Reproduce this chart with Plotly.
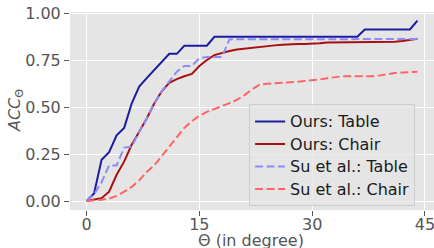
import plotly.graph_objects as go

theta = list(range(45))

ours_table = [0.0, 0.04, 0.22, 0.26, 0.35, 0.39, 0.52, 0.61, 0.655, 0.70,
              0.745, 0.785, 0.785, 0.828, 0.828, 0.828, 0.828, 0.876, 0.876, 0.876,
              0.876, 0.876, 0.876, 0.876, 0.876, 0.876, 0.876, 0.876, 0.876, 0.876,
              0.876, 0.876, 0.876, 0.876, 0.876, 0.876, 0.876, 0.915, 0.915, 0.915,
              0.915, 0.915, 0.915, 0.915, 0.962]

ours_chair = [0.0, 0.008, 0.015, 0.05, 0.14, 0.21, 0.30, 0.37, 0.44, 0.52,
              0.585, 0.63, 0.65, 0.665, 0.678, 0.72, 0.752, 0.778, 0.79, 0.80,
              0.808, 0.813, 0.816, 0.82, 0.826, 0.83, 0.834, 0.838, 0.838, 0.838,
              0.838, 0.842, 0.846, 0.846, 0.846, 0.846, 0.846, 0.848, 0.85, 0.85,
              0.85, 0.85, 0.853, 0.857, 0.865]

su_table = [0.0, 0.035, 0.10, 0.19, 0.19, 0.285, 0.29, 0.37, 0.44, 0.52,
            0.585, 0.64, 0.69, 0.72, 0.72, 0.762, 0.768, 0.768, 0.768, 0.862,
            0.862, 0.862, 0.862, 0.862, 0.862, 0.862, 0.862, 0.862, 0.862, 0.862,
            0.862, 0.862, 0.862, 0.862, 0.862, 0.862, 0.862, 0.862, 0.862, 0.862,
            0.862, 0.862, 0.862, 0.862, 0.864]

su_chair = [0.0, 0.003, 0.007, 0.013, 0.027, 0.05, 0.075, 0.11, 0.155, 0.19,
            0.24, 0.29, 0.34, 0.39, 0.425, 0.455, 0.475, 0.49, 0.505, 0.522,
            0.54, 0.565, 0.595, 0.62, 0.625, 0.627, 0.63, 0.633, 0.636, 0.64,
            0.643, 0.648, 0.655, 0.66, 0.665, 0.665, 0.665, 0.665, 0.665, 0.67,
            0.678, 0.683, 0.685, 0.688, 0.69]

series_names = ["Ours: Table", "Ours: Chair", "Su et al.: Table", "Su et al.: Chair"]
x_ticks = [0, 15, 30, 45]
y_ticks = [0.0, 0.25, 0.5, 0.75, 1.0]
x_title = "Θ (in degree)"
y_title = "<i>ACC</i><sub>Θ</sub>"

FONT = "DejaVu Sans"
GRAY = "#555555"


def lbl(s):
    return "<span style='font-size:16px'>" + s + "</span>"


fig = go.Figure()
fig.add_trace(go.Scatter(x=theta, y=ours_table, mode="lines", name=lbl(series_names[0]),
                         line=dict(color="#1c1ca0", width=2)))
fig.add_trace(go.Scatter(x=theta, y=ours_chair, mode="lines", name=lbl(series_names[1]),
                         line=dict(color="#a81010", width=2)))
fig.add_trace(go.Scatter(x=theta, y=su_table, mode="lines", name=lbl(series_names[2]),
                         line=dict(color="#8c8cf8", width=2, dash="8px,3.5px")))
fig.add_trace(go.Scatter(x=theta, y=su_chair, mode="lines", name=lbl(series_names[3]),
                         line=dict(color="#ff6464", width=2, dash="8px,3.5px")))

fig.update_layout(
    width=434, height=248,
    margin=dict(l=70, r=0, t=12, b=38, autoexpand=False),
    paper_bgcolor="white",
    plot_bgcolor="#E5E5E5",
    font=dict(family=FONT, size=16, color=GRAY),
    showlegend=True,
    legend=dict(
        x=0.492, y=0.534, xanchor="left", yanchor="top",
        bgcolor="rgba(229,229,229,0.8)", bordercolor="#cccccc", borderwidth=1,
        font=dict(family=FONT, size=15, color="#1a1a1a"),
        tracegroupgap=0,
    ),
    xaxis=dict(
        range=[-2.2, 46.2], tickvals=x_ticks, ticktext=[str(v) for v in x_ticks],
        showgrid=True, gridcolor="white", gridwidth=1, zeroline=False,
        ticks="outside", ticklen=5, tickcolor=GRAY, tickwidth=1,
        tickfont=dict(family=FONT, size=16, color=GRAY),
        ticklabeloverflow="allow", automargin=False, ticklabelstandoff=-5,
        showline=False,
    ),
    yaxis=dict(
        range=[-0.048, 1.008], tickvals=y_ticks, tickformat=".2f",
        showgrid=True, gridcolor="white", gridwidth=1, zeroline=False,
        ticks="outside", ticklen=5, tickcolor=GRAY, tickwidth=1,
        tickfont=dict(family=FONT, size=16, color=GRAY),
        ticklabeloverflow="allow", automargin=False,
        showline=False,
    ),
    annotations=[
        dict(text=x_title, xref="paper", yref="paper", x=(251 - 70) / 364, y=-(240 - 210) / 197.5,
             xanchor="center", yanchor="middle", showarrow=False,
             font=dict(family=FONT, size=16, color=GRAY)),
        dict(text=y_title, xref="paper", yref="paper", x=-(70 - 15) / 364, y=0.5,
             xanchor="center", yanchor="middle", showarrow=False, textangle=-90,
             font=dict(family=FONT, size=16, color=GRAY)),
    ],
)

fig.write_html("out.html", config={"displayModeBar": False},
               post_script="document.body.style.margin='0';document.body.style.padding='0';")
